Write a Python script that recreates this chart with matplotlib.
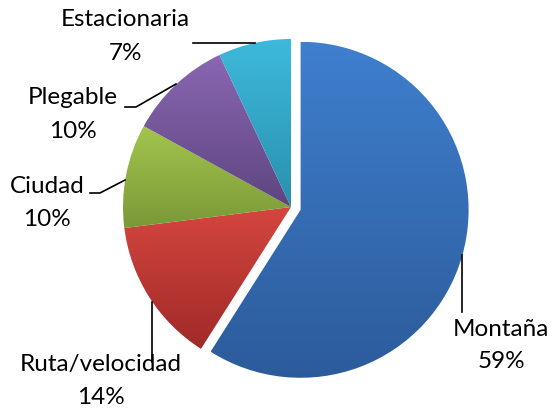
import numpy as np
import matplotlib.pyplot as plt
from matplotlib.colors import LinearSegmentedColormap

plt.rcParams['font.family'] = ['Lato', 'DejaVu Sans']

# datos
categorias = ['Montaña', 'Ruta/velocidad', 'Ciudad', 'Plegable', 'Estacionaria']
porcentajes = [59, 14, 10, 10, 7]
colores_sup = ['#3F7FCE', '#D4463F', '#A3C44E', '#8A67B2', '#3EB9DB']
colores_inf = ['#2C5B9A', '#A02A28', '#7A9937', '#5E4580', '#2990AE']

fig = plt.figure(figsize=(5.53, 4.11), dpi=100)
ax = fig.add_axes([0, 0, 1, 1])

cx, cy, r = 291, 204, 168
separar = [10, 0, 0, 0, 0]  # desplazamiento en píxeles
wedges, _ = ax.pie(porcentajes, colors=colores_sup, startangle=90, counterclock=False,
                   center=(cx, cy), radius=r, explode=separar, frame=True,
                   wedgeprops=dict(linewidth=0))

# degradado vertical en cada porción
grad = np.linspace(0, 1, 256).reshape(-1, 1)
for w, c1, c2 in zip(wedges, colores_sup, colores_inf):
    v = w.get_path().vertices
    x0, x1 = v[:, 0].min(), v[:, 0].max()
    y0, y1 = v[:, 1].min(), v[:, 1].max()
    cmap = LinearSegmentedColormap.from_list('g', [c1, c2])
    im = ax.imshow(grad, cmap=cmap, extent=[x0, x1, y0, y1], origin='upper',
                   aspect='auto', zorder=2)
    im.set_clip_path(w)
    w.set_facecolor('none')

ax.set_xlim(0, 553)
ax.set_ylim(0, 411)
ax.set_aspect('equal')
ax.axis('off')

# etiquetas
H = 411
fs = 17.5
etiquetas = [(501, 329), (101, 364), (47, 187), (73, 98), (125, 20)]
for (px, py), cat, p in zip(etiquetas, categorias, porcentajes):
    ax.text(px, H - py, cat, ha='center', va='center', fontsize=fs, color='black')
    ax.text(px, H - py - 33, f'{p}%', ha='center', va='center', fontsize=fs, color='black')

# líneas guía
guias = [
    [(462, 255), (462, 312)],
    [(152, 302), (152, 362)],
    [(90, 193), (100, 193), (125, 180)],
    [(125, 107), (136, 107), (176, 84)],
    [(193, 43), (255, 43)],
]
for g in guias:
    xs = [p[0] for p in g]
    ys = [H - p[1] for p in g]
    ax.plot(xs, ys, color='black', lw=1.2, zorder=3)

fig.savefig('out.png', dpi=100)
